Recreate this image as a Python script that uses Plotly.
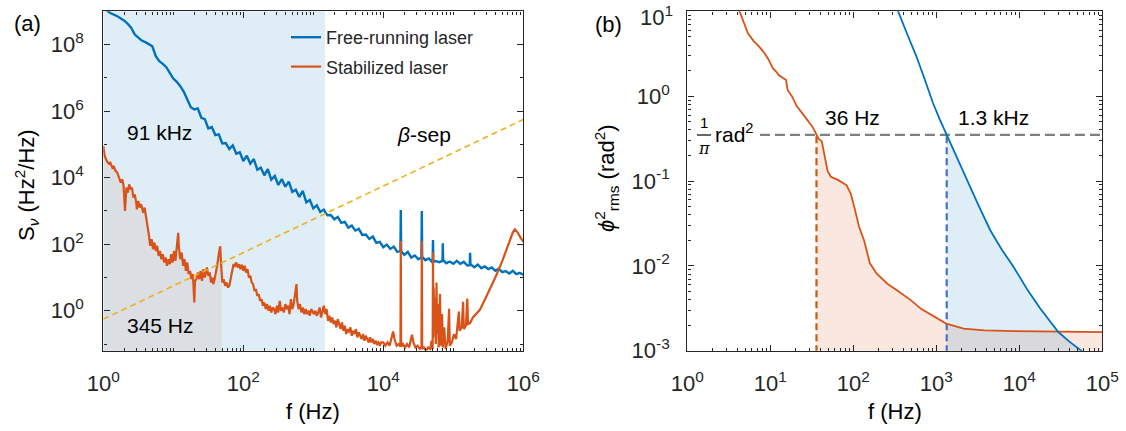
import plotly.graph_objects as go

FONT = "Liberation Sans, Arial, sans-serif"
TXT = "#262626"
BLUE = "#0072BD"
ORANGE = "#D95319"
YELLOW = "#EDB120"
W, H = 1126, 431

# ---------------- Panel (a): frequency-noise PSD, (log10 f [Hz], log10 S [Hz^2/Hz]) ----------------
free_a = [
    (0.00, 9.10), (0.10, 8.95), (0.20, 8.85), (0.30, 8.72), (0.35, 8.62), (0.40, 8.50), (0.45, 8.30),
    (0.50, 8.20), (0.55, 8.12), (0.62, 8.05), (0.70, 7.95), (0.75, 7.65), (0.80, 7.50), (0.85, 7.42),
    (0.90, 7.32), (0.95, 7.15), (1.00, 6.98), (1.05, 6.88), (1.10, 6.75), (1.15, 6.58), (1.20, 6.35),
    (1.25, 6.12), (1.30, 6.05),
    (1.35, 6.08), (1.40, 5.80), (1.45, 5.76), (1.50, 5.48), (1.55, 5.52), (1.60, 5.28), (1.65, 5.30),
    (1.70, 5.03), (1.75, 5.04), (1.80, 4.86), (1.85, 4.97), (1.90, 4.72), (1.95, 4.76), (2.00, 4.50),
    (2.05, 4.66), (2.10, 4.42), (2.15, 4.56), (2.20, 4.24), (2.25, 4.30), (2.30, 4.07), (2.35, 4.26),
    (2.40, 3.94), (2.45, 4.05), (2.50, 3.78), (2.55, 3.96), (2.60, 3.73), (2.65, 3.88), (2.70, 3.57),
    (2.75, 3.64), (2.80, 3.42), (2.85, 3.60), (2.90, 3.26), (2.95, 3.33), (3.00, 3.08), (3.05, 3.17),
    (3.10, 2.97), (3.15, 3.04), (3.20, 2.87), (3.25, 2.88), (3.30, 2.75), (3.35, 2.82), (3.40, 2.64),
    (3.45, 2.67), (3.50, 2.50), (3.55, 2.56), (3.60, 2.41), (3.65, 2.46), (3.70, 2.28), (3.75, 2.29),
    (3.80, 2.16), (3.85, 2.23), (3.90, 2.04), (3.95, 2.07), (4.00, 1.91), (4.05, 1.99), (4.10, 1.86),
    (4.15, 1.93), (4.20, 1.77), (4.245, 1.80), (4.25, 3.03), (4.255, 1.79), (4.30, 1.68), (4.35, 1.77),
    (4.40, 1.60), (4.45, 1.66), (4.50, 1.55), (4.545, 1.60), (4.55, 3.00), (4.555, 1.62), (4.60, 1.52),
    (4.65, 1.57), (4.70, 1.46), (4.705, 1.48), (4.71, 2.13), (4.715, 1.48), (4.75, 1.49), (4.80, 1.46),
    (4.845, 1.50), (4.85, 2.03), (4.855, 1.52), (4.90, 1.43), (4.95, 1.48), (5.00, 1.41), (5.05, 1.50),
    (5.10, 1.41), (5.15, 1.47), (5.20, 1.36), (5.235, 1.37), (5.24, 1.74), (5.245, 1.38), (5.25, 1.39),
    (5.30, 1.31), (5.35, 1.39), (5.40, 1.28), (5.45, 1.33), (5.50, 1.25), (5.55, 1.30), (5.60, 1.20),
    (5.65, 1.26), (5.70, 1.16), (5.75, 1.19), (5.80, 1.12), (5.85, 1.20), (5.90, 1.10), (5.95, 1.14),
    (6.00, 1.08),
]

stab_a = [
    (0.00, 4.95), (0.02, 4.65), (0.05, 4.50), (0.08, 4.42), (0.10, 4.45), (0.13, 4.30), (0.15, 4.35),
    (0.17, 4.22), (0.20, 4.15), (0.23, 3.95), (0.25, 3.85), (0.27, 3.95), (0.29, 3.75), (0.31, 3.00),
    (0.33, 3.70), (0.35, 3.55), (0.37, 3.80), (0.39, 3.65), (0.41, 3.70), (0.43, 3.40), (0.45, 3.50),
    (0.47, 3.25), (0.48, 3.05), (0.50, 3.30), (0.52, 3.10), (0.54, 3.20), (0.57, 2.95), (0.59, 3.10),
    (0.61, 2.85), (0.63, 2.60), (0.65, 2.30), (0.67, 1.95), (0.69, 2.15), (0.71, 1.85), (0.73, 2.05),
    (0.75, 1.80), (0.77, 1.95), (0.79, 1.65), (0.81, 1.80), (0.83, 1.55), (0.85, 1.70), (0.87, 1.45),
    (0.89, 1.60), (0.91, 1.35), (0.93, 1.55), (0.95, 1.40), (0.97, 1.70), (0.99, 1.45), (1.01, 1.80),
    (1.03, 1.50), (1.05, 1.95), (1.07, 2.34), (1.08, 1.90), (1.10, 1.55), (1.12, 1.75), (1.14, 1.35),
    (1.16, 1.55), (1.18, 1.20), (1.20, 1.45), (1.22, 1.10), (1.24, 1.20), (1.26, 0.95), (1.28, 1.10),
    (1.30, 0.25), (1.31, 0.90), (1.33, 0.95), (1.35, 1.15), (1.37, 0.95), (1.39, 1.20), (1.41, 0.90),
    (1.43, 1.25), (1.45, 1.00), (1.48, 1.30), (1.50, 1.05), (1.52, 1.15), (1.54, 0.85), (1.56, 1.00),
    (1.57, 0.80), (1.59, 0.95), (1.61, 1.15), (1.63, 1.40), (1.65, 1.70), (1.67, 1.94), (1.68, 1.50),
    (1.69, 1.10), (1.70, 0.85), (1.72, 0.95), (1.74, 0.75), (1.76, 0.85), (1.78, 0.70), (1.80, 0.75),
    (1.82, 0.95), (1.84, 1.20), (1.86, 1.40), (1.88, 1.35), (1.90, 1.45), (1.92, 1.30), (1.94, 1.40),
    (1.96, 1.25), (1.98, 1.38), (2.00, 1.20), (2.02, 1.35), (2.04, 1.15), (2.06, 1.25), (2.08, 1.00),
    (2.10, 1.05), (2.12, 0.85), (2.14, 0.80), (2.16, 0.60), (2.18, 0.65), (2.20, 0.45), (2.22, 0.50),
    (2.24, 0.30), (2.26, 0.35), (2.28, 0.15), (2.30, 0.25), (2.32, 0.05), (2.34, 0.20), (2.36, 0.00),
    (2.38, 0.15), (2.40, -0.05), (2.42, 0.10), (2.44, 0.05), (2.46, -0.10), (2.48, 0.15), (2.50, -0.05),
    (2.52, 0.30), (2.54, 0.00), (2.56, 0.10), (2.58, -0.05), (2.60, 0.20), (2.62, 0.05), (2.64, 0.15),
    (2.66, -0.10), (2.68, 0.35), (2.70, 0.05), (2.72, 0.20), (2.74, 0.45), (2.76, 0.80), (2.77, 0.30),
    (2.79, 0.05), (2.81, 0.20), (2.83, -0.05), (2.85, 0.10), (2.87, -0.10), (2.89, 0.05), (2.91, -0.10),
    (2.93, 0.00), (2.95, -0.15), (2.97, 0.05), (2.99, -0.05), (3.01, -0.10), (3.03, 0.00), (3.05, -0.15),
    (3.07, -0.05), (3.09, 0.10), (3.11, -0.20), (3.13, -0.05), (3.15, 0.15), (3.17, -0.10), (3.19, 0.05),
    (3.21, -0.30), (3.23, -0.15), (3.25, -0.35), (3.27, -0.20), (3.29, -0.40), (3.31, -0.30), (3.33, -0.50),
    (3.35, -0.25), (3.37, -0.40), (3.39, -0.55), (3.41, -0.35), (3.43, -0.60), (3.45, -0.45), (3.47, -0.70),
    (3.49, -0.55), (3.51, -0.65), (3.53, -0.50), (3.55, -0.75), (3.57, -0.60), (3.59, -0.70), (3.61, -0.55),
    (3.63, -0.80), (3.65, -0.65), (3.67, -0.75), (3.69, -0.85), (3.71, -0.70), (3.73, -0.90), (3.75, -0.75),
    (3.77, -0.85), (3.79, -0.95), (3.81, -0.80), (3.83, -0.95), (3.85, -0.85), (3.87, -1.00), (3.89, -0.90),
    (3.91, -1.00), (3.93, -0.95), (3.95, -1.05), (3.97, -0.95), (4.00, -0.95), (4.03, -1.05), (4.06, -0.95),
    (4.09, -1.05), (4.12, -0.80), (4.14, -0.62), (4.16, -0.85), (4.19, -1.05), (4.22, -1.00), (4.245, -1.08),
    (4.25, 2.10), (4.255, -1.08), (4.28, -1.00), (4.31, -1.10), (4.34, -1.00), (4.37, -1.10), (4.39, -0.90),
    (4.41, -0.72), (4.43, -0.95), (4.46, -1.10), (4.49, -1.05), (4.52, -1.15), (4.545, -1.10), (4.55, 2.10),
    (4.555, -1.15), (4.58, -1.10), (4.61, -1.20), (4.64, -1.10), (4.67, -1.15), (4.69, -0.90), (4.705, -1.15),
    (4.71, 1.75), (4.715, -0.80), (4.72, 0.70), (4.73, -0.60), (4.74, 0.40), (4.75, -1.00), (4.76, 0.85),
    (4.77, -0.70), (4.78, 0.20), (4.79, -1.10), (4.81, 0.50), (4.82, -1.05), (4.84, -0.10), (4.85, -1.10),
    (4.87, -0.50), (4.89, -1.15), (4.92, -0.90), (4.94, 0.06), (4.95, -1.05), (4.98, -0.95), (5.01, -0.70),
    (5.04, -0.85), (5.06, -0.50), (5.08, -0.02), (5.09, -0.60), (5.12, -0.50), (5.14, 0.27), (5.15, -0.55),
    (5.18, -0.45), (5.20, 0.37), (5.21, -0.40), (5.24, -0.37), (5.28, -0.20), (5.33, -0.10), (5.38, 0.03),
    (5.45, 0.33), (5.52, 0.63), (5.60, 1.00), (5.70, 1.50), (5.80, 2.05), (5.85, 2.35), (5.88, 2.45),
    (5.92, 2.35), (5.96, 2.20), (6.00, 2.08),
]

beta_sep_f = [1, 1e6]          # Hz
beta_sep_S = [0.56, 5.6e5]     # Hz^2/Hz
free_a_limit = 1470            # Hz, upper edge of the free-running integration area
stab_a_limit = 50              # Hz, upper edge of the stabilized integration area

# ---------------- Panel (b): integrated phase noise, (log10 f [Hz], log10 phi^2 [rad^2]) ----------------
stab_b = [
    (0.60, 1.10), (0.63, 1.00), (0.73, 0.74), (0.80, 0.65), (0.86, 0.59), (0.92, 0.52), (0.98, 0.43),
    (1.03, 0.33), (1.07, 0.29), (1.10, 0.25), (1.13, 0.23), (1.17, 0.21), (1.19, 0.19), (1.20, 0.12),
    (1.21, 0.07), (1.26, 0.00), (1.32, -0.12), (1.40, -0.22), (1.45, -0.28), (1.50, -0.35), (1.53, -0.40),
    (1.556, -0.456), (1.58, -0.50), (1.62, -0.53), (1.64, -0.62), (1.66, -0.75), (1.69, -0.88),
    (1.73, -0.95), (1.82, -0.99), (1.92, -1.05), (1.97, -1.15), (2.01, -1.30), (2.07, -1.54), (2.13, -1.70),
    (2.20, -1.97), (2.28, -2.09), (2.41, -2.21), (2.53, -2.29), (2.70, -2.41), (2.82, -2.51), (2.99, -2.61),
    (3.12, -2.68), (3.33, -2.74), (3.58, -2.76), (3.95, -2.77), (4.58, -2.78), (5.00, -2.78),
]
free_b = [
    (2.50, 1.08), (2.54, 1.00), (2.65, 0.73), (2.76, 0.47), (2.86, 0.20), (2.96, -0.08), (3.04, -0.27),
    (3.125, -0.456), (3.25, -0.73), (3.37, -0.99), (3.51, -1.29), (3.65, -1.58), (3.79, -1.81),
    (3.93, -2.01), (4.09, -2.27), (4.25, -2.50), (4.37, -2.66), (4.47, -2.78), (4.60, -2.89),
    (4.75, -3.00), (4.80, -3.04),
]
threshold_b = 0.35             # rad^2, the 1/pi level as drawn
stab_b_cross = 36              # Hz
free_b_cross = 1334            # Hz
threshold_start = 7.5          # Hz

tick_a_x = [1, 1e2, 1e4, 1e6]
tick_a_x_text = ["10<sup>0</sup>", "10<sup>2</sup>", "10<sup>4</sup>", "10<sup>6</sup>"]
tick_a_y = [1, 1e2, 1e4, 1e6, 1e8]
tick_a_y_text = ["10<sup>0</sup>", "10<sup>2</sup>", "10<sup>4</sup>", "10<sup>6</sup>", "10<sup>8</sup>"]
tick_b_x = [1, 1e1, 1e2, 1e3, 1e4, 1e5]
tick_b_x_text = ["10<sup>0</sup>", "10<sup>1</sup>", "10<sup>2</sup>", "10<sup>3</sup>", "10<sup>4</sup>", "10<sup>5</sup>"]
tick_b_y = [1e-3, 1e-2, 1e-1, 1, 10]
tick_b_y_text = ["10<sup>-3</sup>", "10<sup>-2</sup>", "10<sup>-1</sup>", "10<sup>0</sup>", ""]
tick_b_y_top_text = "10<sup>1</sup>"   # drawn separately so it stays inside the page


def unlog(pairs):
    return [10 ** p[0] for p in pairs], [10 ** p[1] for p in pairs]


fa_f, fa_S = unlog(free_a)
sa_f, sa_S = unlog(stab_a)
sb_f, sb_y = unlog(stab_b)
fb_f, fb_y = unlog(free_b)

BOT = 1e-6
TOP = 1e12
fig = go.Figure()

# ---- panel (a) shaded areas
fig.add_trace(go.Scatter(x=[1, free_a_limit, free_a_limit, 1], y=[BOT, BOT, TOP, TOP], fill="toself",
                         mode="none", fillcolor="rgba(0,114,189,0.13)", showlegend=False, hoverinfo="skip"))
sx = [f for f in sa_f if f <= stab_a_limit * 1.0001]
sy = sa_S[:len(sx)]
fig.add_trace(go.Scatter(x=sx + [sx[-1], 1], y=sy + [BOT, BOT], fill="toself", mode="none",
                         fillcolor="rgba(200,120,90,0.12)", showlegend=False, hoverinfo="skip"))
# ---- panel (a) curves
fig.add_trace(go.Scatter(x=fa_f, y=fa_S, mode="lines", line=dict(color=BLUE, width=2.4),
                         name="Free-running laser", legendgroup="g1"))
fig.add_trace(go.Scatter(x=sa_f, y=sa_S, mode="lines", line=dict(color=ORANGE, width=2.2),
                         name="Stabilized laser", legendgroup="g2"))
fig.add_trace(go.Scatter(x=beta_sep_f, y=beta_sep_S, mode="lines",
                         line=dict(color=YELLOW, width=1.6, dash="6px,4px"), showlegend=False))

# ---- panel (b) shaded areas
ox = [f for f in sb_f if f >= stab_b_cross * 0.999]
oy = sb_y[len(sb_f) - len(ox):]
fig.add_trace(go.Scatter(x=ox + [1e5, ox[0]], y=oy + [BOT, BOT], fill="toself", mode="none",
                         fillcolor="rgba(217,83,25,0.14)", showlegend=False, hoverinfo="skip",
                         xaxis="x2", yaxis="y2"))
bx = [f for f in fb_f if f >= free_b_cross * 0.999]
by = fb_y[len(fb_f) - len(bx):]
fig.add_trace(go.Scatter(x=bx + [bx[-1], bx[0]], y=by + [BOT, BOT], fill="toself", mode="none",
                         fillcolor="rgba(0,114,189,0.13)", showlegend=False, hoverinfo="skip",
                         xaxis="x2", yaxis="y2"))
# ---- panel (b) reference lines
fig.add_trace(go.Scatter(x=[threshold_start, 1e5], y=[threshold_b, threshold_b], mode="lines",
                         line=dict(color="#7F7F7F", width=2.2, dash="10px,5px"), showlegend=False,
                         xaxis="x2", yaxis="y2"))
fig.add_trace(go.Scatter(x=[stab_b_cross, stab_b_cross], y=[BOT, threshold_b], mode="lines",
                         line=dict(color="#C55A11", width=2.2, dash="7px,4px"), showlegend=False,
                         xaxis="x2", yaxis="y2"))
fig.add_trace(go.Scatter(x=[free_b_cross, free_b_cross], y=[BOT, threshold_b], mode="lines",
                         line=dict(color="#4472C4", width=2.2, dash="7px,4px"), showlegend=False,
                         xaxis="x2", yaxis="y2"))
# ---- panel (b) curves
fig.add_trace(go.Scatter(x=sb_f, y=sb_y, mode="lines", line=dict(color=ORANGE, width=1.8),
                         showlegend=False, xaxis="x2", yaxis="y2"))
fig.add_trace(go.Scatter(x=fb_f, y=fb_y, mode="lines", line=dict(color=BLUE, width=1.8),
                         showlegend=False, xaxis="x2", yaxis="y2"))


def minor_vals(lo, hi):
    vals = []
    for e in range(lo, hi):
        for k in range(2, 10):
            vals.append(k * 10 ** e)
    return vals


def axis(rng, dom, tv, tt, minor, standoff, anchor):
    return dict(type="log", range=rng, domain=dom, anchor=anchor, automargin=False,
                showgrid=False, zeroline=False,
                showline=True, linecolor=TXT, linewidth=1.4, mirror="allticks",
                ticks="inside", ticklen=6, tickwidth=1.2, tickcolor=TXT,
                tickvals=tv, ticktext=tt, ticklabelstandoff=standoff,
                ticklabeloverflow="allow",
                tickfont=dict(family=FONT, size=22, color=TXT),
                minor=dict(tickvals=minor, ticks="inside", ticklen=3, tickwidth=1, tickcolor=TXT,
                           showgrid=False))


YDOM = [1 - 350.7 / H, 1 - 11.3 / H]
fig.update_layout(
    template="none",
    width=W, height=H, margin=dict(l=0, r=0, t=0, b=0, autoexpand=False),
    paper_bgcolor="white", plot_bgcolor="white",
    font=dict(family=FONT, color=TXT),
    xaxis=axis([0, 6], [103.3 / W, 523.3 / W], tick_a_x, tick_a_x_text,
               minor_vals(0, 6) + [10, 1e3, 1e5], 13, "y"),
    yaxis=axis([-1.2, 9.0], YDOM, tick_a_y, tick_a_y_text, [1e-1, 10, 1e3, 1e5, 1e7], 14, "x"),
    xaxis2=axis([0, 5], [687.3 / W, 1102.3 / W], tick_b_x, tick_b_x_text, minor_vals(0, 5), 13, "y2"),
    yaxis2=axis([-3, 1.0005], YDOM, tick_b_y, tick_b_y_text, minor_vals(-3, 1), 12, "x2"),
    legend=dict(x=286 / W, y=1 - 19 / H, xanchor="left", yanchor="top", bgcolor="rgba(0,0,0,0)",
                borderwidth=0, font=dict(family=FONT, size=18, color=TXT), tracegroupgap=3,
                itemwidth=30),
    showlegend=True,
)


def px(x, y):
    return x / W, 1 - y / H


def note(text, x, y, size=21, xanchor="center", angle=0, family=FONT, yanchor="middle", color="black"):
    xp, yp = px(x, y)
    fig.add_annotation(text=text, x=xp, y=yp, xref="paper", yref="paper", showarrow=False,
                       xanchor=xanchor, yanchor=yanchor, textangle=angle,
                       font=dict(family=family, size=size, color=color))


note(tick_b_y_top_text, 675.3, 0, 22, xanchor="right", yanchor="top", family=FONT, color=TXT)
note("(a)", 27, 23, 22)
note("(b)", 608, 25, 22)
note("91 kHz", 159, 132)
note("345 Hz", 160, 325)
note("<i>β</i>-sep", 424, 135)
note("36 Hz", 852, 118)
note("1.3 kHz", 993, 118)
note("rad<sup>2</sup>", 713, 133, 21, xanchor="left")
note("1", 704, 122, 15)
note("<i>π</i>", 704, 148, 16, family="DejaVu Serif, serif")
fig.add_shape(type="line", xref="paper", yref="paper", x0=697 / W, x1=711 / W, y0=1 - 135 / H,
              y1=1 - 135 / H, line=dict(color="black", width=1.2))
note("f (Hz)", 313, 411, 22)
note("f (Hz)", 895, 411, 22)
note("S<sub><i>ν</i></sub> (Hz<sup>2</sup>/Hz)", 26, 185, 22, angle=-90)
note("<i>ϕ</i><sup>2</sup><sub>rms</sub> (rad<sup>2</sup>)", 606, 178, 22, angle=-90)

fig.write_html("out.html", config={"displayModeBar": False})
